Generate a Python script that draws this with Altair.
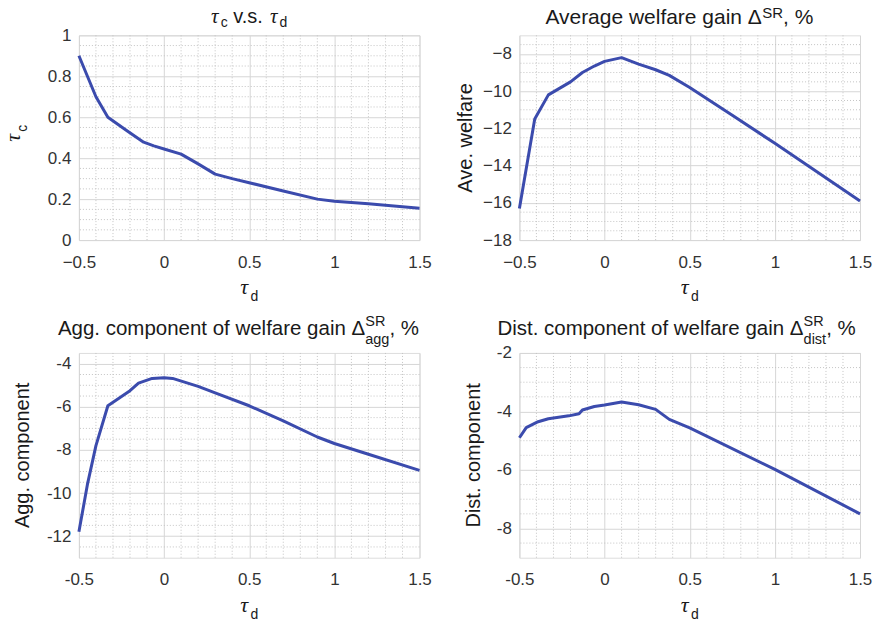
import altair as alt
import pandas as pd

# ---------------- data ----------------
P1_X = [-0.5, -0.45, -0.4, -0.33, -0.22, -0.12, -0.06, 0.0, 0.1, 0.2, 0.3, 0.4, 0.5, 0.7, 0.9, 1.0, 1.2, 1.5]
P1_Y = [0.90, 0.80, 0.70, 0.60, 0.535, 0.478, 0.46, 0.445, 0.42, 0.372, 0.322, 0.30, 0.28, 0.24, 0.20, 0.19, 0.178, 0.155]

P2_X = [-0.5, -0.41, -0.33, -0.2, -0.13, -0.06, 0.0, 0.1, 0.2, 0.3, 0.38, 0.5, 0.75, 1.0, 1.5]
P2_Y = [-16.3, -11.5, -10.2, -9.5, -9.0, -8.65, -8.4, -8.2, -8.55, -8.85, -9.15, -9.8, -11.3, -12.8, -15.9]

P3_X = [-0.5, -0.45, -0.4, -0.33, -0.2, -0.15, -0.07, 0.0, 0.05, 0.2, 0.3, 0.5, 0.7, 0.9, 1.0, 1.2, 1.5]
P3_Y = [-11.8, -9.6, -7.8, -5.95, -5.25, -4.9, -4.68, -4.65, -4.68, -5.05, -5.35, -5.95, -6.65, -7.4, -7.7, -8.2, -8.95]

P4_X = [-0.5, -0.46, -0.39, -0.33, -0.21, -0.15, -0.13, -0.06, 0.0, 0.1, 0.2, 0.3, 0.38, 0.5, 1.0, 1.5]
P4_Y = [-4.9, -4.55, -4.35, -4.25, -4.15, -4.08, -3.95, -3.83, -3.78, -3.68, -3.77, -3.93, -4.27, -4.56, -5.98, -7.5]

X_DOMAIN = [-0.5, 1.5]
X_MAJOR = [-0.5, 0, 0.5, 1, 1.5]
X_MINOR = [-0.4, -0.3, -0.2, -0.1, 0.1, 0.2, 0.3, 0.4, 0.6, 0.7, 0.8, 0.9, 1.1, 1.2, 1.3, 1.4]

P1_YDOM = [0, 1]
P1_YMAJOR = [0, 0.2, 0.4, 0.6, 0.8, 1.0]
P1_YMINOR = [0.05, 0.1, 0.15, 0.25, 0.3, 0.35, 0.45, 0.5, 0.55, 0.65, 0.7, 0.75, 0.85, 0.9, 0.95]

P2_YDOM = [-18, -7]
P2_YMAJOR = [-18, -16, -14, -12, -10, -8]
P2_YMINOR = [-17.5, -17, -16.5, -15.5, -15, -14.5, -13.5, -13, -12.5, -11.5, -11, -10.5,
             -9.5, -9, -8.5, -7.5]

P3_YDOM = [-13, -3.5]
P3_YMAJOR = [-12, -10, -8, -6, -4]
P3_YMINOR = [-12.5, -11.5, -11, -10.5, -9.5, -9, -8.5, -7.5, -7, -6.5, -5.5, -5, -4.5]

P4_YDOM = [-9, -2]
P4_YMAJOR = [-8, -6, -4, -2]
P4_YMINOR = [-8.5, -7.5, -7, -6.5, -5.5, -5, -4.5, -3.5, -3, -2.5]

# ---------------- styling ----------------
W, H = 341, 205
LINE_COLOR = "#3b4bad"
GRID = "#d6d6d6"
MINOR = "#c4c4c4"
TXT = "#1a1a1a"
LBL = "#333333"
SANS = "Liberation Sans"
SERIF = "Liberation Serif"

SANS_W = {' ': 278, '!': 278, '%': 889, ',': 278, '-': 333, '.': 278, 'A': 667, 'D': 722,
          'S': 667, 'R': 722, 'a': 556, 'c': 500, 'd': 556, 'e': 556, 'f': 278, 'g': 556,
          'i': 222, 'l': 222, 'm': 833, 'n': 556, 'o': 556, 'p': 556, 'r': 333, 's': 500,
          't': 278, 'v': 500, 'w': 722, 'Δ': 668}


def seg_width(text, kind, size):
    if kind == "tau":
        return 0.46 * size * len(text)
    return sum(SANS_W.get(c, 556) for c in text) / 1000.0 * size


def _item_parts(s):
    return s[1] if s[0] == "STACK" else [s]


def _item_width(s):
    return max(seg_width(t, k, sz) for t, k, sz, dy in _item_parts(s))


def _clean(t, k, sz):
    lead = len(t) - len(t.lstrip(" "))
    return t.strip(" "), seg_width(" " * lead, "sans", sz)


def layout_h(segs, cx, by, start=None):
    widths = [_item_width(s) for s in segs]
    x = cx - sum(widths) / 2.0 if start is None else start
    rows = []
    for s, w in zip(segs, widths):
        for t, k, sz, dy in _item_parts(s):
            txt, off = _clean(t, k, sz)
            rows.append(dict(text=txt, kind=k, sz=sz, px=x + off, py=by + dy, ang=0))
        x += w
    return rows


def layout_v(segs, cy, bx):
    widths = [_item_width(s) for s in segs]
    y = cy + sum(widths) / 2.0
    rows = []
    for s, w in zip(segs, widths):
        for t, k, sz, dy in _item_parts(s):
            txt, off = _clean(t, k, sz)
            rows.append(dict(text=txt, kind=k, sz=sz, px=bx + dy, py=y - off, ang=270))
        y -= w
    return rows


XTITLE = [("τ", "tau", 22, 0), ("d", "sans", 14, 7)]


def panel(xs, ys, ydom, ymajor, yminor, yfmt, title_segs, title_base, title_start,
          ytitle_segs, ytitle_x, ytitle_cy, hyphen):
    expr = "replace(datum.label, '\u2212', '-')" if hyphen else "datum.label"
    xscale = alt.Scale(domain=X_DOMAIN, nice=False, zero=False, padding=0)
    yscale = alt.Scale(domain=ydom, nice=False, zero=False, padding=0)
    xaxis = alt.Axis(values=X_MAJOR, format=".1~f", title=None, grid=True, gridColor=GRID,
                     ticks=False, domain=False, labelFontSize=17, labelPadding=14,
                     labelFlush=False, labelOverlap=False,
                     labelColor=LBL, labelFont=SANS, labelExpr=expr)
    yaxis = alt.Axis(values=ymajor, format=yfmt, title=None, grid=True, gridColor=GRID,
                     ticks=False, domain=False, labelFontSize=17, labelPadding=8,
                     labelFlush=False, labelOverlap=False,
                     labelColor=LBL, labelFont=SANS, labelExpr=expr)

    vmin = alt.Chart(pd.DataFrame({"m": X_MINOR})).mark_rule(
        strokeDash=[1, 2], color=MINOR, strokeWidth=1
    ).encode(x=alt.X("m:Q", scale=xscale, axis=xaxis))
    hmin = alt.Chart(pd.DataFrame({"m": yminor})).mark_rule(
        strokeDash=[1, 2], color=MINOR, strokeWidth=1
    ).encode(y=alt.Y("m:Q", scale=yscale, axis=yaxis))

    line = alt.Chart(pd.DataFrame({"tau_d": xs, "val": ys})).mark_line(
        color=LINE_COLOR, strokeWidth=3, strokeJoin="round"
    ).encode(
        x=alt.X("tau_d:Q", scale=xscale, axis=xaxis),
        y=alt.Y("val:Q", scale=yscale, axis=yaxis),
        order="tau_d:Q",
    )

    rows = []
    rows += layout_h(title_segs, W / 2.0, title_base, title_start)
    rows += layout_h(XTITLE, W / 2.0, H + 54)
    rows += layout_v(ytitle_segs, ytitle_cy, ytitle_x)
    tdf = pd.DataFrame(rows)

    def text_layer(kind, font, style):
        return alt.Chart(tdf[tdf["kind"] == kind]).mark_text(
            align="left", baseline="alphabetic", font=font, fontStyle=style, color=TXT
        ).encode(
            x=alt.X("px:Q", scale=None),
            y=alt.Y("py:Q", scale=None),
            text="text:N",
            size=alt.Size("sz:Q", scale=None),
            angle=alt.Angle("ang:Q", scale=None),
        )

    return alt.layer(hmin, vmin, line, text_layer("sans", SANS, "normal"),
                     text_layer("tau", SERIF, "italic")).properties(width=W, height=H)


p1 = panel(P1_X, P1_Y, P1_YDOM, P1_YMAJOR, P1_YMINOR, ".1~f",
           [("τ", "tau", 21, 0), ("c", "sans", 14, 4), (" v.s. ", "sans", 20, 0),
            ("τ", "tau", 21, 0), ("d", "sans", 14, 4)], -12, None,
           [("τ", "tau", 22, 0), ("c", "sans", 14, 7)], -59, 98, False)
p2 = panel(P2_X, P2_Y, P2_YDOM, P2_YMAJOR, P2_YMINOR, "d",
           [("Average welfare gain Δ", "sans", 21, 0), ("SR", "sans", 15, -6),
            (", %", "sans", 21, 0)], -11, 26,
           [("Ave. welfare", "sans", 20, 0)], -47, H / 2.0, False)
p3 = panel(P3_X, P3_Y, P3_YDOM, P3_YMAJOR, P3_YMINOR, "d",
           [("Agg. component of welfare gain Δ", "sans", 20.5, 0),
            ("STACK", [("SR", "sans", 14.5, -9), ("agg", "sans", 14.5, 9)]),
            (", %", "sans", 20.5, 0)], -18, -21,
           [("Agg. component", "sans", 20, 0)], -50, H / 2.0, True)
p4 = panel(P4_X, P4_Y, P4_YDOM, P4_YMAJOR, P4_YMINOR, "d",
           [("Dist. component of welfare gain Δ", "sans", 20.5, 0),
            ("STACK", [("SR", "sans", 14.5, -9), ("dist", "sans", 14.5, 9)]),
            (", %", "sans", 20.5, 0)], -18, -22,
           [("Dist. component", "sans", 20, 0)], -39, H / 2.0, True)

chart = alt.concat(p1, p2, p3, p4, columns=2).properties(
    spacing={"row": 113, "column": 100},
    bounds="flush",
    padding={"left": 1, "top": 5, "right": 0, "bottom": 0},
).configure_view(stroke="#262626", strokeWidth=1).configure(background="white")

chart.save("out.html", embed_options={"renderer": "svg", "actions": False})
